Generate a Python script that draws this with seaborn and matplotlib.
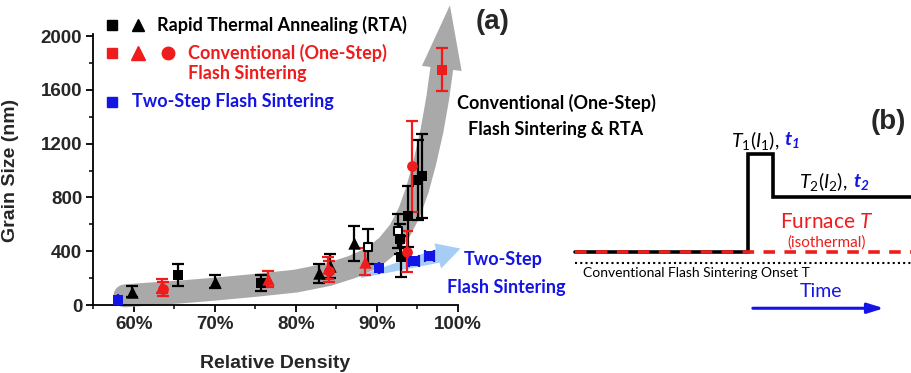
import numpy as np
import pandas as pd
import matplotlib
matplotlib.use('Agg')
import matplotlib.pyplot as plt
import seaborn as sns
from matplotlib.lines import Line2D
from matplotlib.patches import Polygon

# ---------------- data (left panel) ----------------
rta_sq_x = [65.5, 75.7, 92.8, 93.0, 93.8, 95.1, 95.5]
rta_sq_y = [224, 162, 490, 360, 659, 930, 960]
rta_sq_err = [82, 60, 110, 150, 225, 300, 310]

rta_open_x = [88.9, 92.6]
rta_open_y = [435, 550]
rta_open_err = [130, 125]

rta_tri_x = [59.75, 70.05, 82.9, 84.2, 87.2]
rta_tri_y = [99, 174, 236, 290, 460]
rta_tri_err = [40, 50, 70, 90, 130]

conv_sq_x = [98.0]
conv_sq_y = [1749]
conv_sq_err = [160]

conv_tri_x = [63.5, 76.6, 84.0, 88.5]
conv_tri_y = [140, 191, 275, 323]
conv_tri_err = [50, 60, 80, 100]

conv_cir_x = [63.6, 84.1, 93.7, 94.35]
conv_cir_y = [120, 250, 398, 1032]
conv_cir_err = [50, 80, 150, 340]

two_x = [58.0, 90.3, 94.6, 96.5]
two_y = [37, 274, 328, 368]
two_xerr = [0, 0, 0.6, 0.6]

x_ticks = [60, 70, 80, 90, 100]
x_ticklabels = ['60%', '70%', '80%', '90%', '100%']
y_ticks = [0, 400, 800, 1200, 1600, 2000]

# guide arrows (schematic trends)
grey_cx = [58.9, 62, 66, 70, 75, 80, 84, 87, 89.5, 91.3, 92.8, 94.0, 95.0, 95.9, 96.8, 97.5, 98.0]
grey_cy = [68, 82, 98, 118, 146, 178, 226, 284, 352, 440, 550, 690, 860, 1060, 1300, 1540, 1760]
grey_tip = (99.0, 2230)
blue_tail = (88.0, 212)
blue_base = (97.5, 365)
blue_tip = (100.3, 420)

# ---------------- data (right panel schematic) ----------------
time_pts = [0.43, 5.33, 5.33, 6.06, 6.06, 10.0]
temp_pts = [3.13, 3.13, 7.04, 7.04, 5.33, 5.33]
furnace_t = [0.43, 10.0]
furnace_T = [3.13, 3.13]
onset_t = [0.43, 10.0]
onset_T = [2.67, 2.67]

# ---------------- style ----------------
sns.set_theme(style='ticks')
plt.rcParams['font.family'] = ['Liberation Sans', 'DejaVu Sans']
plt.rcParams['mathtext.fontset'] = 'custom'
plt.rcParams['mathtext.rm'] = 'Lato'
plt.rcParams['mathtext.it'] = 'Lato:italic'
plt.rcParams['mathtext.bf'] = 'Lato:bold:italic'

RED = '#ee1c1c'
BLUE = '#1414e6'
BLACK = '#000000'
GREY = '#a9a9a9'
LBLUE = '#a6cdf4'
CAL = ['Lato', 'DejaVu Sans']

W, H = 912, 373
fig = plt.figure(figsize=(W / 100, H / 100), dpi=100)

def fpx(x, y):
    return (x / W, 1 - y / H)

ax = fig.add_axes([93.3 / W, (H - 305) / H, (458 - 93.3) / W, (305 - 33.5) / H])
ax.set_xlim(55, 100)
ax.set_ylim(0, 2020)

# grey trend arrow
ax.plot(grey_cx, grey_cy, color=GREY, lw=16.5, solid_capstyle='round',
        solid_joinstyle='round', zorder=1, clip_on=False)
inv = ax.transData.inverted()
b = ax.transData.transform((grey_cx[-1], grey_cy[-1]))
t = ax.transData.transform(grey_tip)
d = (t - b) / np.linalg.norm(t - b)
p = np.array([-d[1], d[0]])
head = np.array([b + p * 20, t, b - p * 20])
ax.add_patch(Polygon(inv.transform(head), closed=True, color=GREY, zorder=1, clip_on=False, lw=0))

# light-blue trend arrow
A = ax.transData.transform(blue_tail)
B = ax.transData.transform(blue_base)
T = ax.transData.transform(blue_tip)
d = (B - A) / np.linalg.norm(B - A)
p = np.array([-d[1], d[0]])
poly = np.array([A + p * 1.5, B + p * 7, B + p * 13, T, B - p * 13, B - p * 7, A - p * 1.5])
ax.add_patch(Polygon(inv.transform(poly), closed=True, color=LBLUE, zorder=1.5, clip_on=False, lw=0))

eb = dict(fmt='none', elinewidth=1.6, capsize=4, capthick=1.6, zorder=3)
ax.errorbar(rta_tri_x, rta_tri_y, yerr=rta_tri_err, ecolor=BLACK, **eb)
ax.errorbar(rta_sq_x, rta_sq_y, yerr=rta_sq_err, ecolor=BLACK, **eb)
ax.errorbar(rta_open_x, rta_open_y, yerr=rta_open_err, ecolor=BLACK, **eb)
ax.errorbar(conv_tri_x, conv_tri_y, yerr=conv_tri_err, ecolor=RED, **eb)
ax.errorbar(conv_cir_x, conv_cir_y, yerr=conv_cir_err, ecolor=RED, **eb)
ax.errorbar(conv_sq_x, conv_sq_y, yerr=conv_sq_err, ecolor=RED, **eb)
ax.errorbar(two_x, two_y, xerr=two_xerr, ecolor=BLUE, **eb)

sns.scatterplot(x=rta_tri_x, y=rta_tri_y, marker='^', s=80, color=BLACK, linewidth=0, ax=ax, zorder=4)
sns.scatterplot(x=rta_sq_x, y=rta_sq_y, marker='s', s=45, color=BLACK, linewidth=0, ax=ax, zorder=4)
sns.scatterplot(x=rta_open_x, y=rta_open_y, marker='s', s=40, facecolor='white', edgecolor=BLACK, linewidth=1.5, ax=ax, zorder=4)
sns.scatterplot(x=conv_tri_x, y=conv_tri_y, marker='^', s=80, color=RED, linewidth=0, ax=ax, zorder=5)
sns.scatterplot(x=conv_cir_x, y=conv_cir_y, marker='o', s=60, color=RED, linewidth=0, ax=ax, zorder=5)
sns.scatterplot(x=conv_sq_x, y=conv_sq_y, marker='s', s=45, color=RED, linewidth=0, ax=ax, zorder=5)
sns.scatterplot(x=two_x, y=two_y, marker='s', s=45, color=BLUE, linewidth=0, ax=ax, zorder=5, clip_on=False)

sns.despine(ax=ax)
for s in ['left', 'bottom']:
    ax.spines[s].set_linewidth(1.3)
    ax.spines[s].set_color('black')
ax.set_xticks(x_ticks)
ax.set_xticklabels(x_ticklabels)
ax.set_xticks([55, 65, 75, 85, 95], minor=True)
ax.set_yticks(y_ticks)
ax.set_yticks([200, 600, 1000, 1400, 1800], minor=True)
ax.tick_params(which='major', direction='out', length=5, width=1.3, labelsize=13.5, pad=3, color='black')
ax.tick_params(which='minor', direction='out', length=3, width=1.1, color='black')
for lab in ax.get_xticklabels() + ax.get_yticklabels():
    lab.set_fontweight('bold')
ax.set_xlabel('Relative Density', fontsize=14, fontweight='bold')
ax.set_ylabel('Grain Size (nm)', fontsize=14, fontweight='bold')
ax.xaxis.set_label_coords(0.498, -0.185)
ax.yaxis.set_label_coords(-0.205, 0.497)
ax.grid(False)

# legend (manual)
def mk(x, y, m, c, ms):
    fig.add_artist(Line2D([x / W], [1 - y / H], marker=m, color=c, ms=ms, lw=0,
                          transform=fig.transFigure))
mk(112, 25, 's', BLACK, 7); mk(138, 25, '^', BLACK, 9)
mk(112, 53, 's', RED, 7); mk(138, 53, '^', RED, 9.5); mk(168, 53, 'o', RED, 9)
mk(112, 102, 's', BLUE, 7)
fig.text(*fpx(157, 25), 'Rapid Thermal Annealing (RTA)', family=CAL, fontweight='bold',
         fontsize=13, color=BLACK, ha='left', va='center')
fig.text(*fpx(188, 53), 'Conventional (One-Step)', family=CAL, fontweight='bold',
         fontsize=13, color=RED, ha='left', va='center')
fig.text(*fpx(188, 74), 'Flash Sintering', family=CAL, fontweight='bold',
         fontsize=13, color=RED, ha='left', va='center')
fig.text(*fpx(132, 102), 'Two-Step Flash Sintering', family=CAL, fontweight='bold',
         fontsize=13, color=BLUE, ha='left', va='center')

fig.text(*fpx(493, 22), '(a)', fontsize=20, fontweight='bold', ha='center', va='center')
fig.text(*fpx(556, 103), 'Conventional (One-Step)', family=CAL, fontweight='bold',
         fontsize=13, color=BLACK, ha='center', va='center')
fig.text(*fpx(556, 130), 'Flash Sintering & RTA', family=CAL, fontweight='bold',
         fontsize=13, color=BLACK, ha='center', va='center')
fig.text(*fpx(503, 260), 'Two-Step', family=CAL, fontweight='bold',
         fontsize=13, color=BLUE, ha='center', va='center')
fig.text(*fpx(506, 287), 'Flash Sintering', family=CAL, fontweight='bold',
         fontsize=13, color=BLUE, ha='center', va='center')

# ---------------- right panel ----------------
ax2 = fig.add_axes([560 / W, (H - 330) / H, 352 / W, 250 / H])
ax2.set_xlim(0, 10)
ax2.set_ylim(0, 10)
ax2.axis('off')
sns.lineplot(x=onset_t, y=onset_T, ax=ax2, color='black', lw=1.5, linestyle=(0, (1, 1.5)))
ax2.plot(time_pts, temp_pts, color='black', lw=2.6, solid_joinstyle='miter', clip_on=False)
ax2.plot(furnace_t, furnace_T, color=RED, lw=2.6, linestyle=(0, (3.2, 2.6)), clip_on=False, zorder=3)

ax2.text(9.32, 8.33, '(b)', fontsize=20, fontweight='bold', ha='center', va='center')
fig.canvas.draw()
r = fig.canvas.get_renderer()
t1 = ax2.text(4.85, 7.6, r'$T_1(I_1)$,', family=CAL, fontsize=14, color='black', ha='left', va='center')
bb = t1.get_window_extent(r)
ax2.annotate(r'$\mathbf{t_1}$', xy=(bb.x1 + 5, (bb.y0 + bb.y1) / 2), xycoords='figure pixels',
             fontsize=14, color=BLUE, ha='left', va='center')
t2 = ax2.text(6.8, 5.93, r'$T_2(I_2)$,', family=CAL, fontsize=14, color='black', ha='left', va='center')
bb = t2.get_window_extent(r)
ax2.annotate(r'$\mathbf{t_2}$', xy=(bb.x1 + 5, (bb.y0 + bb.y1) / 2), xycoords='figure pixels',
             fontsize=14, color=BLUE, ha='left', va='center')
ax2.text(7.58, 4.33, r'Furnace $T$', family=CAL, fontsize=15, color=RED, ha='center', va='center')
ax2.text(7.58, 3.49, '(isothermal)', family=CAL, fontsize=11, color=RED, ha='center', va='center')
ax2.text(0.65, 2.27, 'Conventional Flash Sintering Onset T', family=CAL, fontsize=10,
         color='black', ha='left', va='center')
ax2.text(7.41, 1.53, 'Time', family=CAL, fontsize=14, color=BLUE, ha='center', va='center')
ax2.annotate('', xy=(9.28, 0.87), xytext=(5.4, 0.87),
             arrowprops=dict(arrowstyle='-|>,head_length=0.8,head_width=0.25', color=BLUE, lw=2.2))

fig.savefig('out.png', dpi=100)
